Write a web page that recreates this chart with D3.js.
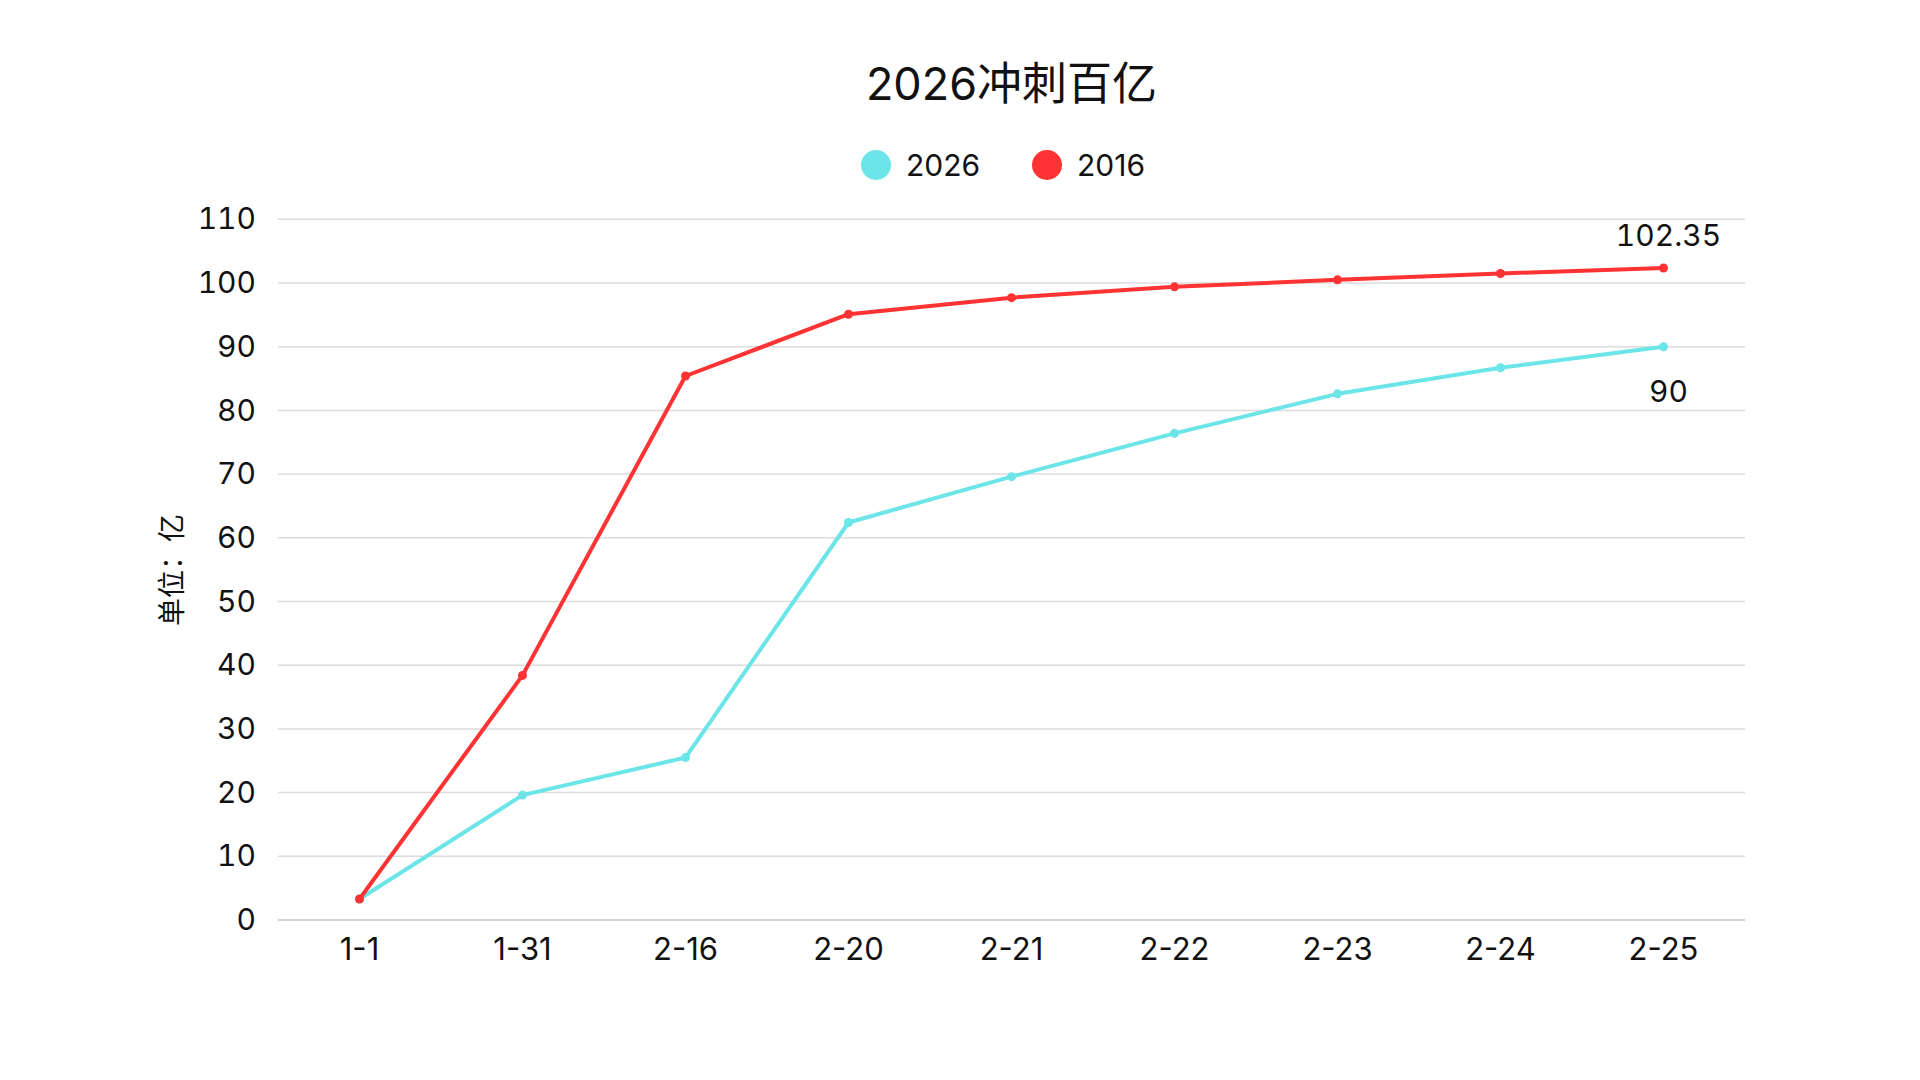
<!DOCTYPE html>
<html>
<head>
<meta charset="utf-8">
<script src="https://cdn.jsdelivr.net/npm/d3@7"></script>
<style>
  body { margin: 0; background: #fff; }
  text { font-family: Inter, "Noto Sans CJK SC", sans-serif; fill: #111; }
  .num { font-variant-numeric: tabular-nums; }
</style>
</head>
<body>
<script>
var w = 1920;
var h = 1080;

var title = "2026冲刺百亿";
var yLabel = "单位：亿";
var categories = ["1-1", "1-31", "2-16", "2-20", "2-21", "2-22", "2-23", "2-24", "2-25"];
var seriesNames = ["2026", "2016"];
var values2026 = [3.3, 19.6, 25.5, 62.4, 69.6, 76.4, 82.6, 86.7, 90];
var values2016 = [3.3, 38.4, 85.4, 95.1, 97.7, 99.4, 100.5, 101.5, 102.35];
var yTicks = [0, 10, 20, 30, 40, 50, 60, 70, 80, 90, 100, 110];
var colors = ["#6ce5e8", "#ff3333"];

var plotLeft = 278, plotRight = 1745, plotTop = 219.3, plotBottom = 920;

var svg = d3.select("body")
            .append("svg")
            .attr("width", w)
            .attr("height", h);

var x = d3.scaleBand().domain(categories).range([plotLeft, plotRight]);
var y = d3.scaleLinear().domain([0, 110]).range([plotBottom, plotTop]);

// grid lines
svg.append("g")
   .selectAll("line")
   .data(yTicks)
   .enter()
   .append("line")
   .attr("x1", plotLeft)
   .attr("x2", plotRight)
   .attr("y1", function(d){return y(d);})
   .attr("y2", function(d){return y(d);})
   .attr("stroke", function(d){return d === 0 ? "#c4c4c4" : "#dcdcdc";})
   .attr("stroke-width", 1.5);

// y axis labels
var yAxis = d3.axisLeft(y).tickValues(yTicks).tickSize(0).tickPadding(22);
var gy = svg.append("g").attr("transform", "translate(" + plotLeft + ",0)").call(yAxis);
gy.select(".domain").remove();
gy.attr("font-family", null).attr("font-size", null);
gy.selectAll("text")
  .attr("class", "num")
  .attr("font-size", "30px")
  .attr("fill", "#111");

// x axis labels
var xAxis = d3.axisBottom(x).tickSize(0).tickPadding(18);
var gx = svg.append("g").attr("transform", "translate(0," + plotBottom + ")").call(xAxis);
gx.select(".domain").remove();
gx.attr("font-family", null).attr("font-size", null);
gx.selectAll("text")
  .attr("font-size", "31px")
  .attr("fill", "#111");

var cx = function(d, i){return x(categories[i]) + x.bandwidth() / 2;};

var line = d3.line()
             .x(function(d, i){return cx(d, i);})
             .y(function(d){return y(d);});

[values2026, values2016].forEach(function(vals, s) {
  svg.append("path")
     .datum(vals)
     .attr("d", line)
     .attr("fill", "none")
     .attr("stroke", colors[s])
     .attr("stroke-width", 4)
     .attr("stroke-linejoin", "round");

  svg.append("g")
     .selectAll("circle")
     .data(vals)
     .enter()
     .append("circle")
     .attr("cx", cx)
     .attr("cy", function(d){return y(d);})
     .attr("r", 4.5)
     .attr("fill", colors[s]);
});

// end labels
var last = categories.length - 1;
svg.append("text")
   .text("102.35")
   .attr("class", "num")
   .attr("x", cx(null, last) + 5)
   .attr("y", y(values2016[last]) - 22)
   .attr("text-anchor", "middle")
   .attr("font-size", "30px");
svg.append("text")
   .text("90")
   .attr("class", "num")
   .attr("x", cx(null, last) + 5)
   .attr("y", y(values2026[last]) + 55)
   .attr("text-anchor", "middle")
   .attr("font-size", "30px");

// title
svg.append("text")
   .text(title)
   .attr("x", (plotLeft + plotRight) / 2)
   .attr("y", 100)
   .attr("text-anchor", "middle")
   .attr("font-size", "45px");

// legend
var legend = svg.append("g")
                .selectAll("g")
                .data(seriesNames)
                .enter()
                .append("g")
                .attr("transform", function(d, i){return "translate(" + (876 + i * 171) + ",165)";});
legend.append("circle")
      .attr("r", 15)
      .attr("fill", function(d, i){return colors[i];});
legend.append("text")
      .text(function(d){return d;})
      .attr("x", 30)
      .attr("y", 11)
      .attr("font-size", "30px");

// y axis title
svg.append("text")
   .text(yLabel)
   .attr("transform", "translate(182,570) rotate(-90)")
   .attr("text-anchor", "middle")
   .attr("font-size", "28px");
</script>
</body>
</html>
